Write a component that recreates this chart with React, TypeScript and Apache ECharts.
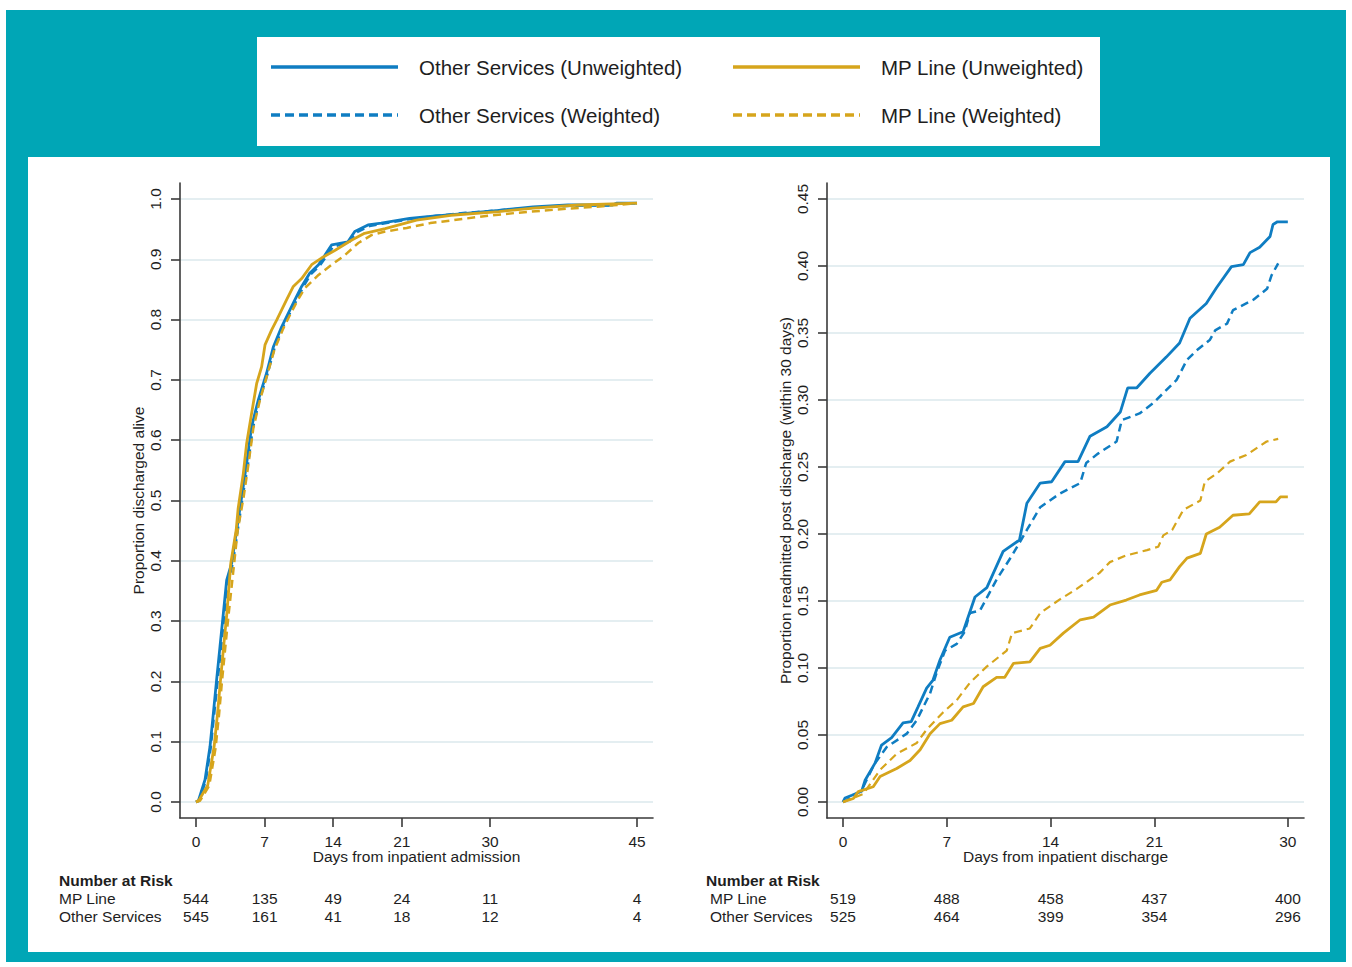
import React, { useEffect, useRef } from 'react';
import * as echarts from 'echarts';

// ---------- data ----------
const leftXTicks = [0, 7, 14, 21, 30, 45];
const rightXTicks = [0, 7, 14, 21, 30];
const leftYTicks = [0, 0.1, 0.2, 0.3, 0.4, 0.5, 0.6, 0.7, 0.8, 0.9, 1.0];
const rightYTicks = [0, 0.05, 0.1, 0.15, 0.2, 0.25, 0.3, 0.35, 0.4, 0.45];

const leftRiskMP = [544, 135, 49, 24, 11, 4];
const leftRiskOther = [545, 161, 41, 18, 12, 4];
const rightRiskMP = [519, 488, 458, 437, 400];
const rightRiskOther = [525, 464, 399, 354, 296];

// Left: proportion discharged alive (days from admission)
const leftOtherUnweighted = [
  [0, 0], [0.24, 0.002], [0.92, 0.037], [1.43, 0.092], [1.77, 0.147], [2.1, 0.202], [2.45, 0.258],
  [2.79, 0.313], [3.13, 0.368], [3.64, 0.396], [4.15, 0.451], [4.66, 0.506], [5.17, 0.562],
  [5.68, 0.623], [6.36, 0.667], [7.2, 0.711], [7.9, 0.755], [8.74, 0.788], [9.4, 0.81],
  [10.1, 0.833], [10.78, 0.855], [11.6, 0.877], [12.5, 0.891], [13.16, 0.907], [13.85, 0.924],
  [15.5, 0.929], [16.2, 0.946], [17.55, 0.957], [18.9, 0.96], [21.8, 0.968], [23.9, 0.971],
  [26.7, 0.975], [30.9, 0.981], [34.4, 0.987], [37.96, 0.99], [42.5, 0.99], [42.9, 0.993], [45, 0.993],
];
const leftOtherWeighted = [
  [0, 0], [0.3, 0.002], [1.0, 0.035], [1.5, 0.09], [1.85, 0.145], [2.2, 0.2], [2.55, 0.255],
  [2.9, 0.31], [3.25, 0.365], [3.75, 0.395], [4.25, 0.45], [4.75, 0.505], [5.3, 0.56],
  [5.8, 0.62], [6.45, 0.665], [7.3, 0.71], [8.0, 0.752], [8.8, 0.786], [9.5, 0.808],
  [10.2, 0.83], [10.9, 0.853], [11.7, 0.875], [12.6, 0.889], [13.3, 0.905], [14.0, 0.921],
  [15.6, 0.928], [16.3, 0.944], [17.7, 0.955], [19.0, 0.959], [22.0, 0.967], [24.5, 0.972],
  [27.5, 0.977], [31.5, 0.982], [35, 0.986], [38.5, 0.989], [42.5, 0.989], [43, 0.992], [45, 0.993],
];
const leftMPUnweighted = [
  [0, 0], [0.3, 0.003], [1.2, 0.028], [1.85, 0.092], [2.2, 0.147], [2.5, 0.202], [2.82, 0.258],
  [3.15, 0.313], [3.55, 0.396], [4.1, 0.451], [4.3, 0.487], [4.83, 0.545], [5.17, 0.595],
  [5.68, 0.645], [6.19, 0.694], [6.7, 0.722], [7.04, 0.758], [7.72, 0.783], [8.23, 0.799],
  [8.74, 0.816], [9.25, 0.833], [9.93, 0.855], [10.78, 0.868], [11.8, 0.891], [12.8, 0.902],
  [14.2, 0.915], [15.9, 0.932], [17.2, 0.943], [19.3, 0.951], [22.5, 0.965], [26.0, 0.973],
  [30.9, 0.979], [34.4, 0.985], [39.0, 0.99], [45, 0.993],
];
const leftMPWeighted = [
  [0, 0], [0.4, 0.002], [1.35, 0.027], [2.0, 0.09], [2.35, 0.145], [2.65, 0.2], [2.98, 0.255],
  [3.32, 0.31], [3.72, 0.37], [4.25, 0.45], [4.85, 0.505], [5.35, 0.56], [5.85, 0.62],
  [6.5, 0.665], [7.3, 0.71], [8.0, 0.75], [8.9, 0.785], [9.6, 0.808], [10.3, 0.83],
  [11.1, 0.852], [12.5, 0.874], [13.85, 0.891], [15.2, 0.907], [16.56, 0.927], [17.9, 0.94],
  [19.3, 0.946], [21.5, 0.952], [23.9, 0.96], [29.2, 0.971], [32.7, 0.977], [37.96, 0.984],
  [41.5, 0.988], [45, 0.993],
];

// Right: proportion readmitted post discharge (days from discharge)
const rightOtherUnweighted = [
  [0, 0], [0.13, 0.003], [0.6, 0.005], [1.26, 0.008], [1.48, 0.016], [2.16, 0.029], [2.6, 0.0425],
  [3.28, 0.048], [4.05, 0.059], [4.6, 0.06], [5.06, 0.071], [5.64, 0.085], [6.07, 0.091],
  [6.54, 0.106], [7.2, 0.123], [8.1, 0.127], [8.9, 0.153], [9.7, 0.16], [10.8, 0.187],
  [11.9, 0.1955], [12.4, 0.223], [13.3, 0.238], [14.07, 0.239], [14.97, 0.254], [15.85, 0.254],
  [16.66, 0.273], [17.8, 0.28], [18.7, 0.291], [19.2, 0.309], [19.8, 0.309], [20.7, 0.32],
  [21.8, 0.332], [22.7, 0.3425], [23.4, 0.361], [24.5, 0.372], [25.2, 0.384], [26.2, 0.3995],
  [27.0, 0.401], [27.45, 0.41], [28.1, 0.414], [28.8, 0.422], [29.0, 0.431], [29.3, 0.433], [30.0, 0.433],
];
const rightOtherWeighted = [
  [0, 0], [0.2, 0.001], [1.26, 0.009], [2.1, 0.028], [2.95, 0.041], [4.3, 0.051], [4.97, 0.061],
  [5.87, 0.081], [6.3, 0.096], [6.88, 0.113], [7.67, 0.118], [8.2, 0.127], [8.56, 0.141],
  [9.24, 0.143], [10.36, 0.166], [11.4, 0.184], [12.4, 0.203], [13.3, 0.22], [14.6, 0.23],
  [16.0, 0.238], [16.4, 0.253], [17.2, 0.26], [18.45, 0.269], [18.8, 0.285], [20.0, 0.29],
  [20.9, 0.2975], [22.5, 0.315], [23.2, 0.33], [23.85, 0.337], [24.75, 0.345], [25.1, 0.352],
  [25.9, 0.357], [26.3, 0.367], [27.7, 0.375], [28.6, 0.383], [28.9, 0.393], [29.35, 0.402],
];
const rightMPUnweighted = [
  [0, 0], [0.7, 0.0026], [1.03, 0.0077], [2.04, 0.0114], [2.5, 0.019], [3.62, 0.025], [4.52, 0.031],
  [5.2, 0.039], [5.87, 0.051], [6.54, 0.0585], [7.33, 0.061], [8.1, 0.071], [8.8, 0.0735],
  [9.45, 0.086], [10.36, 0.093], [10.9, 0.093], [11.5, 0.1035], [12.6, 0.1045], [13.3, 0.1146],
  [13.96, 0.117], [14.86, 0.126], [16.0, 0.136], [16.9, 0.138], [18.0, 0.147], [19.1, 0.1507],
  [20.0, 0.1545], [21.15, 0.158], [21.5, 0.164], [22.05, 0.1657], [22.7, 0.1756], [23.2, 0.182],
  [24.1, 0.1855], [24.5, 0.2], [25.4, 0.205], [26.3, 0.214], [27.4, 0.215], [28.1, 0.224],
  [29.2, 0.224], [29.5, 0.2277], [30.0, 0.2277],
];
const rightMPWeighted = [
  [0, 0], [1.37, 0.006], [2.5, 0.024], [3.62, 0.036], [4.97, 0.044], [5.64, 0.054], [6.76, 0.067],
  [7.67, 0.076], [8.56, 0.089], [9.69, 0.101], [11.04, 0.113], [11.4, 0.126], [12.6, 0.1295],
  [13.3, 0.141], [14.6, 0.151], [15.76, 0.159], [17.3, 0.171], [18.0, 0.179], [19.1, 0.184],
  [20.5, 0.188], [21.26, 0.1905], [21.6, 0.199], [22.2, 0.203], [22.95, 0.218], [24.1, 0.225],
  [24.4, 0.239], [25.2, 0.245], [26.1, 0.254], [27.2, 0.259], [28.57, 0.269], [29.35, 0.271],
];

// ---------- styles ----------
const FONT = '"Liberation Sans", Arial, sans-serif';
const TEAL = '#00A6B6';
const BLUE = '#0F7DC2';
const GOLD = '#D6A51C';
const TXT = '#1e1e1e';
const AXIS = '#3a3a3a';
const GRID = '#E4EEF1';

function mainXAxis(gridIndex: number, ticks: number[], min: number, max: number, name: string) {
  return {
    type: 'value', gridIndex, min, max, position: 'bottom',
    name, nameLocation: 'middle', nameGap: 30, nameMoveOverlap: false,
    nameTextStyle: { fontFamily: FONT, fontSize: 15.5, color: TXT },
    axisLine: { show: true, onZero: false, lineStyle: { color: AXIS, width: 1.6 } },
    axisTick: { show: true, length: 9, customValues: ticks, lineStyle: { color: AXIS, width: 1.6 } },
    axisLabel: { show: true, customValues: ticks, margin: 15, fontFamily: FONT, fontSize: 15.5, color: TXT, formatter: (v: number) => String(v) },
    splitLine: { show: false },
  };
}

function riskXAxis(gridIndex: number, ticks: number[], min: number, max: number, values: number[], offset: number) {
  return {
    type: 'value', gridIndex, min, max, position: 'bottom', offset,
    axisLine: { show: false, onZero: false },
    axisTick: { show: false, customValues: ticks },
    axisLabel: {
      show: true, customValues: ticks, margin: 0, fontFamily: FONT, fontSize: 15.5, color: TXT,
      formatter: (v: number) => String(values[ticks.indexOf(v)]),
    },
    splitLine: { show: false },
  };
}

function yAxisDef(gridIndex: number, ticks: number[], min: number, max: number, digits: number, name: string) {
  return {
    type: 'value', gridIndex, min, max,
    name, nameLocation: 'middle', nameGap: 33,
    nameTextStyle: { fontFamily: FONT, fontSize: 15.5, color: TXT },
    axisLine: { show: true, onZero: false, lineStyle: { color: AXIS, width: 1.6 } },
    axisTick: { show: true, length: 9, customValues: ticks, lineStyle: { color: AXIS, width: 1.6 } },
    axisLabel: {
      show: true, customValues: ticks, rotate: 90, margin: 17, fontFamily: FONT, fontSize: 15.5, color: TXT,
      formatter: (v: number) => v.toFixed(digits),
    },
    splitLine: { show: true, lineStyle: { color: GRID, width: 2 } },
  };
}

function lineSeries(name: string, data: number[][], color: string, dashed: boolean, xi: number, yi: number, width: number) {
  return {
    type: 'line', name, data, xAxisIndex: xi, yAxisIndex: yi,
    showSymbol: false, symbol: 'none', smooth: false,
    lineStyle: { color, width, type: dashed ? [8, 5] : 'solid' },
    clip: true, silent: true,
  };
}

export default function App() {
  const ref = useRef<HTMLDivElement>(null);

  useEffect(() => {
    if (!ref.current) return;
    const chart = echarts.init(ref.current, null, { renderer: 'svg' });

    const legendText = (x: number, y: number, text: string) => ({
      type: 'text', x, y,
      style: { text, fontFamily: FONT, fontSize: 20.5, fill: TXT, textVerticalAlign: 'middle', textAlign: 'left' },
    });
    const legendLine = (x: number, y: number, color: string, dashed: boolean) => ({
      type: 'line',
      shape: { x1: x, y1: y, x2: x + 127, y2: y },
      style: { stroke: color, lineWidth: 3.3, lineDash: dashed ? [9, 5] : null },
    });
    const plainText = (x: number, y: number, text: string, bold = false) => ({
      type: 'text', x, y,
      style: { text, fontFamily: FONT, fontSize: 15.5, fontWeight: bold ? 'bold' : 'normal', fill: TXT, textVerticalAlign: 'middle', textAlign: 'left' },
    });

    const option: any = {
      animation: false,
      backgroundColor: '#ffffff',
      graphic: [
        { type: 'rect', z: -10, shape: { x: 6, y: 10, width: 1340, height: 952 }, style: { fill: TEAL } },
        { type: 'rect', z: -9, shape: { x: 257, y: 37, width: 843, height: 109 }, style: { fill: '#ffffff' } },
        { type: 'rect', z: -9, shape: { x: 28, y: 157, width: 1302, height: 795 }, style: { fill: '#ffffff' } },
        legendLine(271, 67, BLUE, false),
        legendText(419, 67, 'Other Services (Unweighted)'),
        legendLine(733, 67, GOLD, false),
        legendText(881, 67, 'MP Line (Unweighted)'),
        legendLine(271, 115, BLUE, true),
        legendText(419, 115, 'Other Services (Weighted)'),
        legendLine(733, 115, GOLD, true),
        legendText(881, 115, 'MP Line (Weighted)'),
        plainText(59, 880, 'Number at Risk', true),
        plainText(59, 898, 'MP Line'),
        plainText(59, 916, 'Other Services'),
        plainText(706, 880, 'Number at Risk', true),
        plainText(710, 898, 'MP Line'),
        plainText(710, 916, 'Other Services'),
      ],
      grid: [
        { left: 180, top: 183, width: 473, height: 635, containLabel: false },
        { left: 827, top: 183, width: 477, height: 635, containLabel: false },
      ],
      xAxis: [
        mainXAxis(0, leftXTicks, -1.633, 46.63, 'Days from inpatient admission'),
        riskXAxis(0, leftXTicks, -1.633, 46.63, leftRiskMP, 72),
        riskXAxis(0, leftXTicks, -1.633, 46.63, leftRiskOther, 90),
        mainXAxis(1, rightXTicks, -1.08, 31.09, 'Days from inpatient discharge'),
        riskXAxis(1, rightXTicks, -1.08, 31.09, rightRiskMP, 72),
        riskXAxis(1, rightXTicks, -1.08, 31.09, rightRiskOther, 90),
      ],
      yAxis: [
        yAxisDef(0, leftYTicks, -0.0265, 1.0265, 1, 'Proportion discharged alive'),
        yAxisDef(1, rightYTicks, -0.01194, 0.46194, 2, 'Proportion readmitted post discharge (within 30 days)'),
      ],
      series: [
        lineSeries('Other Services (Unweighted)', leftOtherUnweighted, BLUE, false, 0, 0, 2.8),
        lineSeries('Other Services (Weighted)', leftOtherWeighted, BLUE, true, 0, 0, 2.5),
        lineSeries('MP Line (Unweighted)', leftMPUnweighted, GOLD, false, 0, 0, 2.8),
        lineSeries('MP Line (Weighted)', leftMPWeighted, GOLD, true, 0, 0, 2.5),
        lineSeries('Other Services (Unweighted)', rightOtherUnweighted, BLUE, false, 3, 1, 2.8),
        lineSeries('Other Services (Weighted)', rightOtherWeighted, BLUE, true, 3, 1, 2.5),
        lineSeries('MP Line (Unweighted)', rightMPUnweighted, GOLD, false, 3, 1, 2.8),
        lineSeries('MP Line (Weighted)', rightMPWeighted, GOLD, true, 3, 1, 2.2),
      ],
    };
    chart.setOption(option);
    return () => chart.dispose();
  }, []);

  return <div ref={ref} style={{ position: 'absolute', left: 0, top: 0, width: 1352, height: 967 }} />;
}
